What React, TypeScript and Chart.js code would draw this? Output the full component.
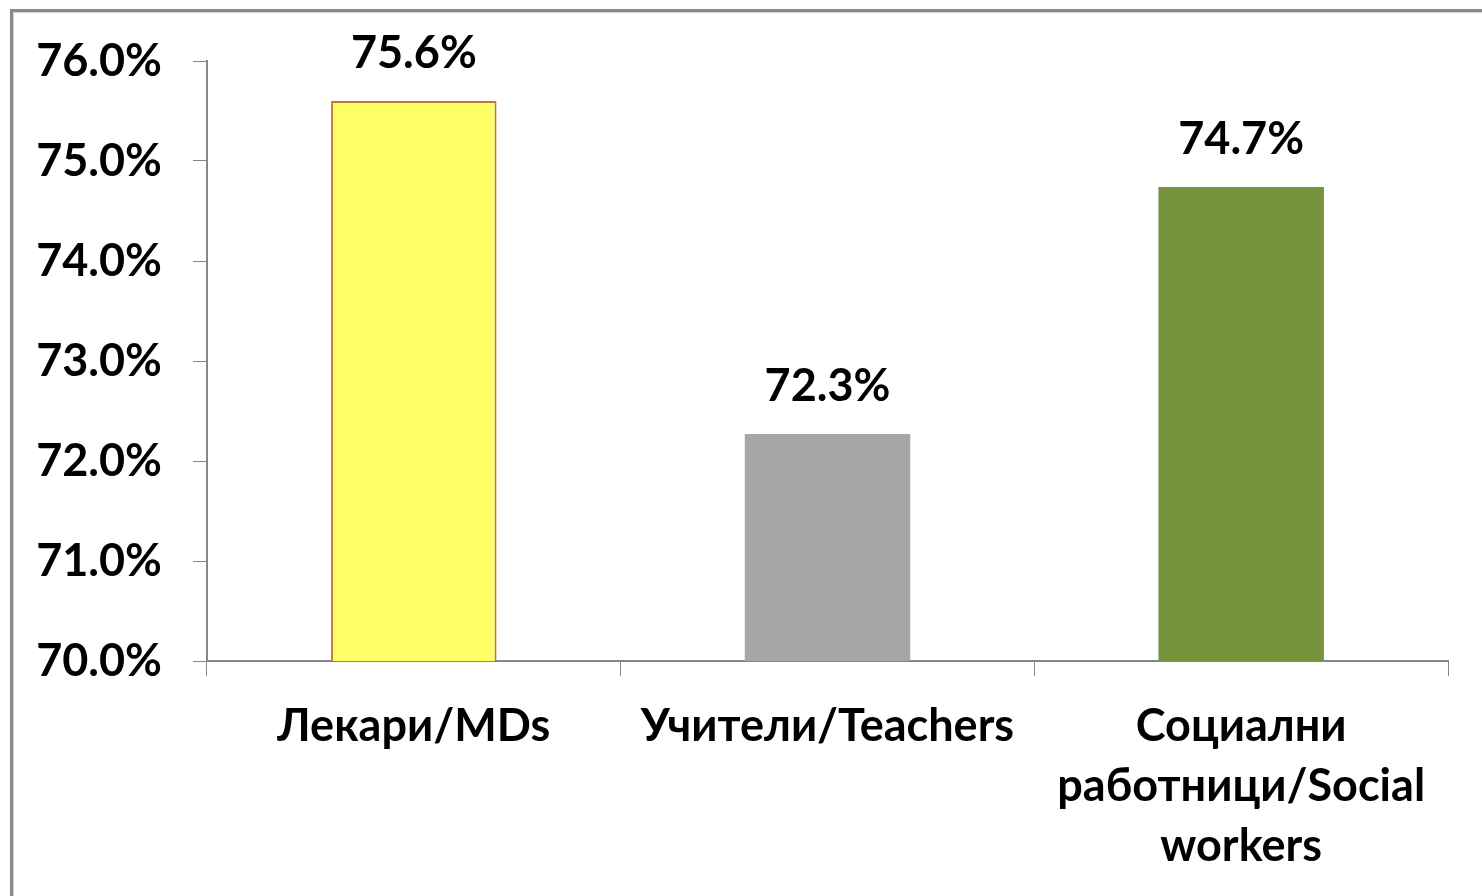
import React, { useEffect, useRef } from "react";
import { Chart, registerables } from "chart.js";

Chart.register(...registerables);

const categories: string[][] = [
  ["Лекари/MDs"],
  ["Учители/Teachers"],
  ["Социални", "работници/Social", "workers"],
];
const values: number[] = [75.6, 72.27, 74.74];
const barColors: string[] = ["#FFFF66", "#A6A6A6", "#77933C"];
const barBorders: string[] = ["#C0762F", "#A6A6A6", "#77933C"];
const borderWidths: number[] = [2, 0, 0];
const yMin = 70;
const yMax = 76;
const yStep = 1;

const FONT = "Lato, 'Open Sans', sans-serif";
const FONT_SIZE = 45;

const framePlugin = {
  id: "frame",
  beforeDraw(chart: any) {
    const ctx = chart.ctx;
    ctx.save();
    ctx.fillStyle = "#ffffff";
    ctx.fillRect(0, 0, chart.width, chart.height);
    ctx.fillStyle = "#8a8a8a";
    ctx.fillRect(10, 9, chart.width - 10, 3);
    ctx.fillRect(10, 9, 3, chart.height - 9);
    ctx.fillStyle = "#d4d4d4";
    ctx.fillRect(13, 12, chart.width - 13, 1);
    ctx.fillRect(13, 12, 1, chart.height - 12);
    ctx.restore();
  },
};

const labelPlugin = {
  id: "valueLabels",
  afterDatasetsDraw(chart: any) {
    const ctx = chart.ctx;
    const meta = chart.getDatasetMeta(0);
    ctx.save();
    ctx.font = `bold ${FONT_SIZE}px ${FONT}`;
    ctx.fillStyle = "#000000";
    ctx.textAlign = "center";
    ctx.textBaseline = "middle";
    meta.data.forEach((bar: any, i: number) => {
      ctx.fillText(values[i].toFixed(1) + "%", bar.x, bar.y - 48);
    });
    ctx.restore();
  },
};

export default function App() {
  const ref = useRef<HTMLCanvasElement>(null);
  useEffect(() => {
    if (!ref.current) return;
    const chart = new Chart(ref.current, {
      type: "bar",
      data: {
        labels: categories,
        datasets: [
          {
            data: values,
            backgroundColor: barColors,
            borderColor: barBorders,
            borderWidth: borderWidths,
            borderSkipped: "bottom",
            barPercentage: 0.4,
            categoryPercentage: 1,
          },
        ],
      },
      options: {
        animation: false,
        responsive: false,
        devicePixelRatio: 1,
        layout: { padding: { top: 61, right: 34, left: 0, bottom: 0 } },
        plugins: {
          legend: { display: false },
          tooltip: { enabled: false },
        },
        scales: {
          x: {
            grid: {
              display: true,
              drawOnChartArea: false,
              drawTicks: true,
              tickLength: 15,
              color: "#868686",
              offset: true,
            },
            border: { display: true, color: "#868686", width: 2 },
            ticks: {
              color: "#000000",
              font: { family: FONT, size: FONT_SIZE, weight: "bold", lineHeight: 60 / FONT_SIZE },
              padding: 20,
              maxRotation: 0,
              autoSkip: false,
            },
            afterFit(scale: any) {
              scale.height = 896 - 661;
            },
          },
          y: {
            min: yMin,
            max: yMax,
            grid: {
              display: true,
              drawOnChartArea: false,
              drawTicks: true,
              tickLength: 14,
              color: "#868686",
            },
            border: { display: true, color: "#868686", width: 2 },
            ticks: {
              stepSize: yStep,
              color: "#000000",
              font: { family: FONT, size: FONT_SIZE, weight: "bold" },
              padding: 31,
              callback: (v: any) => Number(v).toFixed(1) + "%",
            },
            afterFit(scale: any) {
              scale.width = 207;
            },
          },
        },
      },
      plugins: [framePlugin, labelPlugin],
    });
    return () => chart.destroy();
  }, []);
  return (
    <div style={{ position: "fixed", left: 0, top: 0, width: 1482, height: 896, background: "#fff" }}>
      <canvas ref={ref} width={1482} height={896} style={{ width: 1482, height: 896, display: "block" }} />
    </div>
  );
}
